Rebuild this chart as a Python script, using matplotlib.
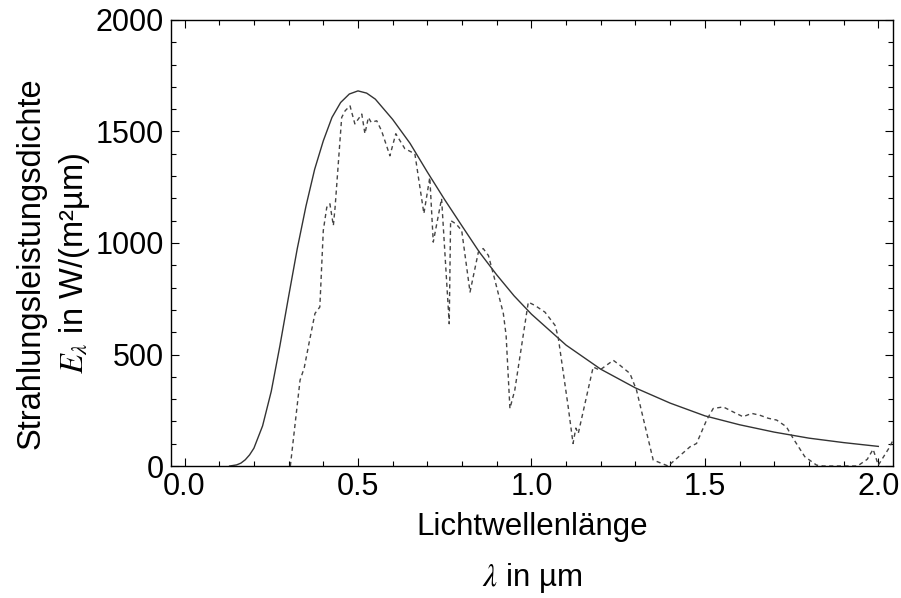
import matplotlib
matplotlib.use("Agg")
import matplotlib.pyplot as plt
from matplotlib.ticker import MultipleLocator

plt.rcParams['font.family'] = ['Liberation Sans', 'DejaVu Sans']
plt.rcParams['mathtext.fontset'] = 'stix'

# smooth curve (black body shape)
solid_x = [0.13, 0.15, 0.1625, 0.175, 0.1875, 0.2, 0.225, 0.25, 0.275, 0.3, 0.325,
           0.35, 0.375, 0.4, 0.425, 0.45, 0.475, 0.5, 0.525, 0.55, 0.6, 0.65,
           0.7, 0.75, 0.8, 0.85, 0.9, 0.95, 1.0, 1.1, 1.2, 1.3, 1.4, 1.5, 1.6,
           1.7, 1.8, 1.9, 2.0]
solid_y = [0, 5, 13, 28, 50, 80, 180, 335, 540, 760, 975,
           1165, 1330, 1458, 1563, 1630, 1668, 1682, 1672, 1645, 1554, 1447,
           1318, 1194, 1076, 959, 857, 763, 681, 542, 434, 350, 282, 225, 185,
           152, 125, 105, 88]

# measured spectrum (dashed)
dash_x = [0.305, 0.333, 0.345, 0.36, 0.376, 0.390, 0.400, 0.410, 0.419, 0.429,
          0.434, 0.453, 0.463, 0.477, 0.491, 0.511, 0.520, 0.530, 0.538, 0.554,
          0.568, 0.592, 0.609, 0.635, 0.664, 0.690, 0.707, 0.717, 0.741, 0.763,
          0.767, 0.783, 0.799, 0.823, 0.847, 0.861, 0.876, 0.892, 0.919, 0.927,
          0.938, 0.952, 0.991, 1.010, 1.039, 1.068, 1.077, 1.106, 1.120, 1.128,
          1.135, 1.178, 1.197, 1.236, 1.255, 1.284, 1.303, 1.351, 1.394, 1.457,
          1.476, 1.505, 1.524, 1.553, 1.581, 1.610, 1.635, 1.658, 1.683, 1.707,
          1.735, 1.754, 1.788, 1.822, 1.841, 1.940, 1.968, 1.985, 2.000, 2.033,
          2.045]
dash_y = [0, 385, 440, 560, 684, 713, 1056, 1160, 1176, 1078,
          1160, 1563, 1593, 1615, 1534, 1578, 1490, 1563, 1541, 1548,
          1503, 1391, 1490, 1423, 1400, 1132, 1294, 1004, 1199, 638,
          1101, 1085, 1056, 780, 959, 975, 944, 850, 684, 586,
          258, 340, 735, 720, 690, 631, 579, 265, 101, 170,
          146, 444, 430, 474, 452, 415, 340, 27, 0, 86,
          101, 206, 258, 265, 243, 221, 236, 228, 214, 206,
          176, 125, 42, 4, 0, 0, 30, 75, 4, 86,
          125]

fig = plt.figure(figsize=(9.01, 5.98), dpi=100)
ax = fig.add_axes([0.1898, 0.2207, 0.8012, 0.7459])

ax.plot(solid_x, solid_y, color='#333333', lw=1.0)
ax.plot(dash_x, dash_y, color='#444444', lw=1.0, linestyle=(0, (3, 2.5)))

ax.set_xlim(-0.039, 2.042)
ax.set_ylim(0, 2000)

ax.xaxis.set_major_locator(MultipleLocator(0.5))
ax.xaxis.set_minor_locator(MultipleLocator(0.1))
ax.yaxis.set_major_locator(MultipleLocator(500))
ax.yaxis.set_minor_locator(MultipleLocator(100))
ax.xaxis.set_major_formatter(plt.FormatStrFormatter('%.1f'))

ax.tick_params(which='both', direction='in', top=True, right=True, width=0.8)
ax.tick_params(which='major', length=6, labelsize=22)
ax.tick_params(which='minor', length=3.5)
ax.tick_params(axis='x', pad=4)
ax.tick_params(axis='y', pad=5)
for s in ax.spines.values():
    s.set_linewidth(1.0)

ax.set_xlabel("Lichtwellenlänge\n$\\lambda$ in µm", fontsize=22.5, linespacing=1.75)
ax.set_ylabel("Strahlungsleistungsdichte\n$E_\\lambda$ in W/(m²µm)", fontsize=23.5,
              linespacing=1.4)
ax.xaxis.set_label_coords(0.5, -0.104)
ax.yaxis.set_label_coords(-0.11, 0.455)
ax.xaxis.label.set_verticalalignment('top')

fig.savefig("out.png", dpi=100)
